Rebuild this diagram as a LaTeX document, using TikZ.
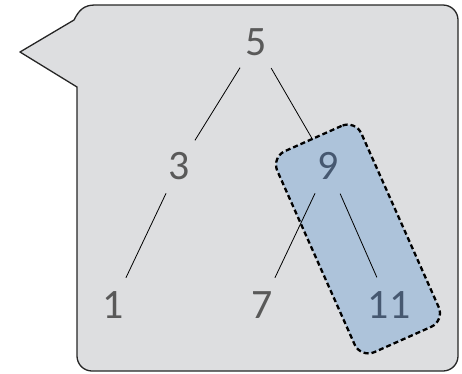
\documentclass[tikz,border=0pt]{standalone}
\usepackage{fontspec}
\setmainfont{Carlito}
\definecolor{bubblefill}{HTML}{DDDEE0}
\definecolor{digitgray}{HTML}{595959}
\definecolor{hlfill}{HTML}{ADC3DA}
\definecolor{hltext}{HTML}{465870}
\begin{document}
\begin{tikzpicture}[x=1bp,y=-1bp,
  treenode/.style={circle,inner sep=0pt,minimum size=60bp,text=digitgray,
    font=\fontsize{42}{48}\selectfont},
  hlnode/.style={treenode,text=hltext},
  edge/.style={draw=black,line width=0.8bp},
  bubble/.style={draw=black!85,line width=1.3bp,fill=bubblefill,line join=round},
  highlight/.style={draw=black,line width=2.3bp,dash pattern=on 5bp off 3bp,
    rounded corners=15bp,minimum width=92bp,minimum height=220bp,rotate=24,inner sep=0pt}]
\useasboundingbox (0,0) rectangle (462,373);
% speech bubble
\path[bubble] (77,87) -- (20,52) -- (74,20) .. controls (79,10) and (84,5) .. (95,5)
  -- (443,5) arc[start angle=-90,end angle=0,radius=15] -- (458,356)
  arc[start angle=0,end angle=90,radius=15] -- (92,371)
  arc[start angle=90,end angle=180,radius=15] -- cycle;
% highlight fill
\node[highlight,draw=none,fill=hlfill] (hlbg) at (358,239) {};
% tree nodes
\node[treenode] (n5) at (256,42) {5};
\node[treenode] (n3) at (179,166) {3};
\node[hlnode] (n9) at (328,166) {9};
\node[treenode] (n1) at (113,305) {1};
\node[treenode] (n7) at (262,305) {7};
\node[hlnode] (n11) at (389,305) {11};
% edges
\draw[edge] (n5) -- (n3);
\draw[edge] (n5) -- (n9);
\draw[edge] (n3) -- (n1);
\draw[edge] (n9) -- (n7);
\draw[edge] (n9) -- (n11);
% highlight border
\node[highlight,fill=none] (hl) at (358,239) {};
\end{tikzpicture}
\end{document}
